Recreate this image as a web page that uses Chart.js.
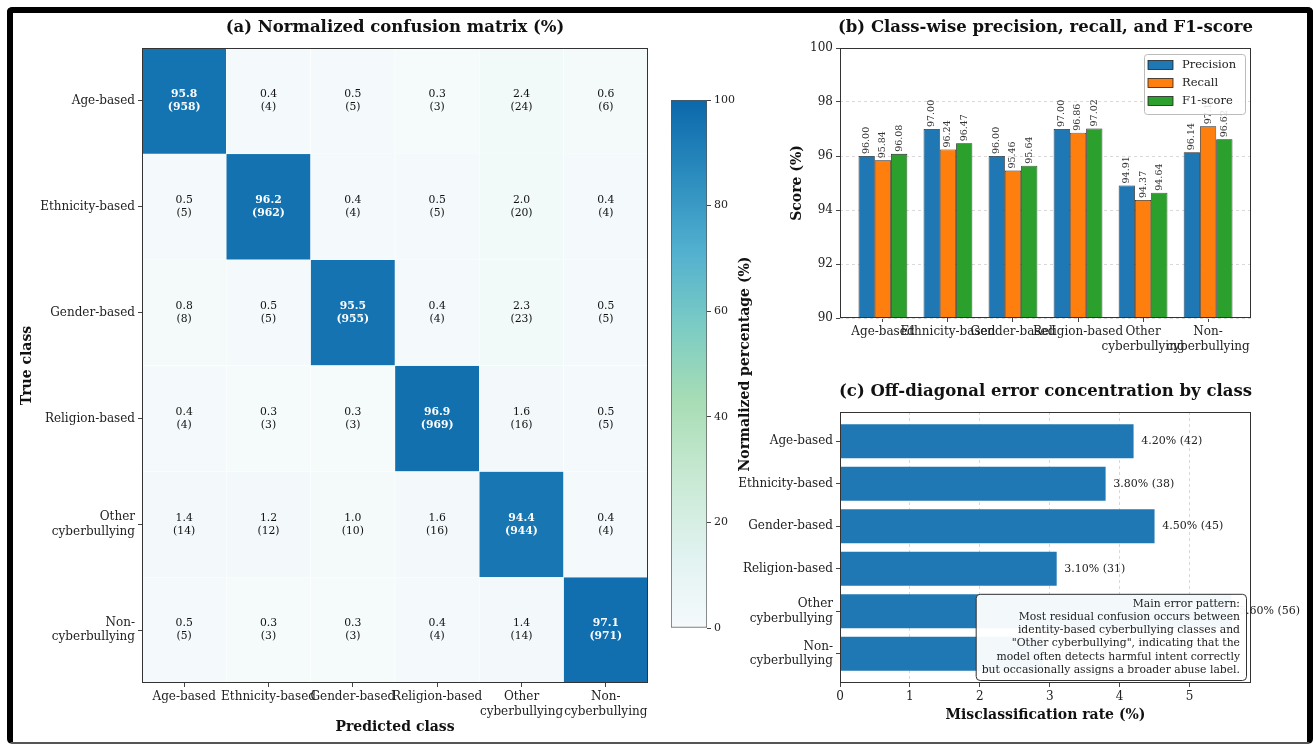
<!DOCTYPE html>
<html>
<head>
<meta charset="utf-8">
<script src="https://cdn.jsdelivr.net/npm/chart.js@4.4.1/dist/chart.umd.min.js"></script>
<style>
  html, body { margin: 0; padding: 0; background: #fff; }
  body { width: 1313px; height: 746px; position: relative; overflow: hidden; }
  canvas { position: absolute; }
  #frame { position: absolute; left: 7px; top: 7px; width: 1306px; height: 737px; box-sizing: border-box;
           border: 6px solid #000; border-bottom: 2px solid #555; border-radius: 5px; }
</style>
</head>
<body>
<div id="frame"></div>
<canvas id="cm" width="660" height="746" style="left:0;top:0"></canvas>
<canvas id="cbar" width="140" height="746" style="left:640px;top:0"></canvas>
<canvas id="prf" width="593" height="370" style="left:720px;top:0"></canvas>
<canvas id="err" width="593" height="376" style="left:720px;top:370px"></canvas>
<script>
// class names (true / predicted)
const classNames = ['Age-based', 'Ethnicity-based', 'Gender-based', 'Religion-based', 'Other\ncyberbullying', 'Non-\ncyberbullying'];

// confusion matrix, row-normalised percentages (true class rows)
const pctAge      = [95.8, 0.4, 0.5, 0.3, 2.4, 0.6];
const pctEthnic   = [0.5, 96.2, 0.4, 0.5, 2.0, 0.4];
const pctGender   = [0.8, 0.5, 95.5, 0.4, 2.3, 0.5];
const pctReligion = [0.4, 0.3, 0.3, 96.9, 1.6, 0.5];
const pctOther    = [1.4, 1.2, 1.0, 1.6, 94.4, 0.4];
const pctNon      = [0.5, 0.3, 0.3, 0.4, 1.4, 97.1];

// raw counts
const cntAge      = [958, 4, 5, 3, 24, 6];
const cntEthnic   = [5, 962, 4, 5, 20, 4];
const cntGender   = [8, 5, 955, 4, 23, 5];
const cntReligion = [4, 3, 3, 969, 16, 5];
const cntOther    = [14, 12, 10, 16, 944, 4];
const cntNon      = [5, 3, 3, 4, 14, 971];

// per-class metrics
const precision = [96.00, 97.00, 96.00, 97.00, 94.91, 96.14];
const recall    = [95.84, 96.24, 95.46, 96.86, 94.37, 97.10];
const f1score   = [96.08, 96.47, 95.64, 97.02, 94.64, 96.62];

// off-diagonal errors
const errRate  = [4.20, 3.80, 4.50, 3.10, 5.60, 2.90];
const errCount = [42, 38, 45, 31, 56, 29];

// tick labels
const scoreTicks = [90, 92, 94, 96, 98, 100];
const cbarTicks  = [0, 20, 40, 60, 80, 100];
const errTicks   = [0, 1, 2, 3, 4, 5];

const noteLines = [
  'Main error pattern:',
  'Most residual confusion occurs between',
  'identity-based cyberbullying classes and',
  '"Other cyberbullying", indicating that the',
  'model often detects harmful intent correctly',
  'but occasionally assigns a broader abuse label.'
];

const cmRows = [pctAge, pctEthnic, pctGender, pctReligion, pctOther, pctNon];
const cmCounts = [cntAge, cntEthnic, cntGender, cntReligion, cntOther, cntNon];

const SERIF = '"DejaVu Serif", serif';
Chart.defaults.font.family = SERIF;
Chart.defaults.color = '#222';
Chart.defaults.animation = false;

// colour map (light -> green -> blue)
const cmapStops = ['#f5fafb', '#e0f2ef', '#c8e9d3', '#a8ddb5', '#7bccc4', '#52b0cf', '#2b8cbe', '#0b68ab'];
function hexToRgb(h) {
  return [1, 3, 5].map(k => parseInt(h.slice(k, k + 2), 16));
}
function cmap(v) {
  const t = Math.max(0, Math.min(1, v / 100)) * (cmapStops.length - 1);
  const i = Math.min(Math.floor(t), cmapStops.length - 2);
  const f = t - i;
  const a = hexToRgb(cmapStops[i]), b = hexToRgb(cmapStops[i + 1]);
  const c = a.map((x, k) => Math.round(x + (b[k] - x) * f));
  return 'rgb(' + c.join(',') + ')';
}

// box around each plot area
const framePlugin = {
  id: 'frame',
  defaults: { color: '#333' },
  afterDatasetsDraw(chart, args, opts) {
    const { ctx, chartArea: a } = chart;
    ctx.save();
    ctx.strokeStyle = opts.color;
    ctx.lineWidth = 1;
    ctx.strokeRect(a.left + 0.5, a.top + 0.5, a.width - 1, a.height - 1);
    ctx.restore();
  }
};

// panel title centred over the plot area
const panelTitle = {
  id: 'panelTitle',
  defaults: { text: '' },
  afterDraw(chart, args, opts) {
    if (!opts.text) return;
    const { ctx, chartArea: a } = chart;
    ctx.save();
    ctx.font = 'bold 16.5px ' + SERIF;
    ctx.fillStyle = '#111';
    ctx.textAlign = 'center';
    ctx.textBaseline = 'middle';
    ctx.fillText(opts.text, (a.left + a.right) / 2, a.top - 20);
    ctx.restore();
  }
};
Chart.register(framePlugin, panelTitle);

const tickGrid = { drawOnChartArea: false, drawTicks: true, tickLength: 4, tickColor: '#444', offset: false };
const axisTitleFont = { size: 14, weight: 'bold' };

// ---- (a) confusion matrix ----
new Chart(document.getElementById('cm'), {
  type: 'bar',
  data: {
    labels: classNames,
    datasets: cmRows.map((row, r) => ({
      label: classNames[r],
      data: row.map(() => [r - 0.5, r + 0.5]),
      backgroundColor: row.map(v => cmap(v)),
      borderColor: '#ffffff',
      borderWidth: 0.5,
      borderSkipped: false,
      grouped: false,
      categoryPercentage: 1,
      barPercentage: 1
    }))
  },
  options: {
    responsive: false,
    devicePixelRatio: 1,
    layout: { padding: { left: 0, right: 12, top: 48, bottom: 0 } },
    plugins: {
      legend: { display: false },
      tooltip: { enabled: false },
      panelTitle: { text: '(a) Normalized confusion matrix (%)' }
    },
    scales: {
      x: {
        offset: true,
        grid: tickGrid,
        border: { display: false },
        ticks: {
          autoSkip: false, maxRotation: 0, minRotation: 0, padding: 3,
          font: { size: 12 }, color: '#222',
          callback: (v, i) => classNames[i].split('\n')
        },
        title: { display: true, text: 'Predicted class', font: axisTitleFont, color: '#111', padding: { top: 2, bottom: 10 } },
        afterFit: s => { s.height = 63; }
      },
      y: {
        type: 'linear', reverse: true, min: -0.5, max: 5.5,
        afterBuildTicks: a => { a.ticks = classNames.map((_, i) => ({ value: i })); },
        grid: tickGrid,
        border: { display: false },
        ticks: {
          autoSkip: false, padding: 3, font: { size: 12 }, color: '#222',
          callback: v => classNames[v] ? classNames[v].split('\n') : ''
        },
        title: { display: true, text: 'True class', font: axisTitleFont, color: '#111', padding: { top: 19, bottom: 0 } },
        afterFit: s => { s.width = 142; }
      }
    }
  },
  plugins: [{
    id: 'cellText',
    afterDatasetsDraw(chart) {
      const { ctx, scales: { x, y } } = chart;
      ctx.save();
      ctx.textAlign = 'center';
      ctx.textBaseline = 'middle';
      cmRows.forEach((row, r) => row.forEach((v, c) => {
        const strong = v > 50;
        ctx.font = (strong ? 'bold ' : '') + '10.8px ' + SERIF;
        ctx.fillStyle = strong ? '#ffffff' : '#111';
        const px = x.getPixelForValue(c), py = y.getPixelForValue(r);
        ctx.fillText(v.toFixed(1), px, py - 6.5);
        ctx.fillText('(' + cmCounts[r][c] + ')', px, py + 6.5);
      }));
      ctx.restore();
    }
  }]
});

// ---- colour bar ----
new Chart(document.getElementById('cbar'), {
  type: 'bar',
  data: {
    labels: [''],
    datasets: [{
      data: [[0, 100]],
      backgroundColor: ctx => {
        const a = ctx.chart.chartArea;
        if (!a) return cmapStops[0];
        const g = ctx.chart.ctx.createLinearGradient(0, a.bottom, 0, a.top);
        cmapStops.forEach((c, i) => g.addColorStop(i / (cmapStops.length - 1), c));
        return g;
      },
      borderColor: '#555',
      borderWidth: 1,
      borderSkipped: false,
      categoryPercentage: 1,
      barPercentage: 1
    }]
  },
  options: {
    responsive: false,
    devicePixelRatio: 1,
    layout: { padding: { left: 31, right: 0, top: 100, bottom: 118 } },
    plugins: { legend: { display: false }, tooltip: { enabled: false }, frame: false },
    scales: {
      x: { display: false },
      y: {
        position: 'right', min: 0, max: 100,
        afterBuildTicks: a => { a.ticks = cbarTicks.map(v => ({ value: v })); },
        grid: tickGrid,
        border: { display: false },
        ticks: { padding: 3, font: { size: 11 }, color: '#222' },
        afterFit: s => { s.width = 73; }
      }
    }
  },
  plugins: [{
    id: 'cbarLabel',
    afterDraw(chart) {
      const { ctx, chartArea: a } = chart;
      ctx.save();
      ctx.translate(105, (a.top + a.bottom) / 2);
      ctx.rotate(-Math.PI / 2);
      ctx.font = 'bold 14px ' + SERIF;
      ctx.fillStyle = '#111';
      ctx.textAlign = 'center';
      ctx.textBaseline = 'middle';
      ctx.fillText('Normalized percentage (%)', 0, 0);
      ctx.restore();
    }
  }]
});

// ---- (b) precision / recall / F1 ----
new Chart(document.getElementById('prf'), {
  type: 'bar',
  data: {
    datasets: [
      { label: 'Precision', data: precision.map((v, i) => ({ x: i, y: v })), backgroundColor: '#1f77b4' },
      { label: 'Recall', data: recall.map((v, i) => ({ x: i, y: v })), backgroundColor: '#ff7f0e' },
      { label: 'F1-score', data: f1score.map((v, i) => ({ x: i, y: v })), backgroundColor: '#2ca02c' }
    ]
  },
  options: {
    responsive: false,
    devicePixelRatio: 1,
    layout: { padding: { left: 0, right: 62, top: 48, bottom: 0 } },
    datasets: { bar: { categoryPercentage: 0.75, barPercentage: 1, borderColor: '#222', borderWidth: 0.8 } },
    plugins: {
      legend: { display: false },
      tooltip: { enabled: false },
      panelTitle: { text: '(b) Class-wise precision, recall, and F1-score' }
    },
    scales: {
      x: {
        type: 'linear', min: -0.66, max: 5.66, offset: false,
        afterBuildTicks: a => { a.ticks = classNames.map((_, i) => ({ value: i })); },
        grid: tickGrid,
        border: { display: false },
        ticks: {
          autoSkip: false, maxRotation: 0, minRotation: 0, padding: 3,
          font: { size: 12 }, color: '#222',
          callback: v => classNames[v] ? classNames[v].split('\n') : ''
        },
        afterFit: s => { s.height = 52; }
      },
      y: {
        min: 90, max: 100,
        afterBuildTicks: a => { a.ticks = scoreTicks.map(v => ({ value: v })); },
        grid: { color: '#d9d9d9', drawTicks: true, tickLength: 4, tickColor: '#444' },
        border: { display: false, dash: [3, 3] },
        ticks: { padding: 3, font: { size: 12 }, color: '#222' },
        title: { display: true, text: 'Score (%)', font: axisTitleFont, color: '#111', padding: { top: 69, bottom: 0 } },
        afterFit: s => { s.width = 120; }
      }
    }
  },
  plugins: [{
    id: 'barValues',
    afterDatasetsDraw(chart) {
      const { ctx } = chart;
      ctx.save();
      ctx.font = '9.5px ' + SERIF;
      ctx.fillStyle = '#333';
      ctx.textAlign = 'left';
      ctx.textBaseline = 'middle';
      chart.data.datasets.forEach((ds, di) => {
        chart.getDatasetMeta(di).data.forEach((el, i) => {
          ctx.save();
          ctx.translate(el.x, el.y - 2);
          ctx.rotate(-Math.PI / 2);
          ctx.fillText(ds.data[i].y.toFixed(2), 0, 0);
          ctx.restore();
        });
      });
      ctx.restore();
    }
  }, {
    id: 'boxLegend',
    afterDraw(chart) {
      const { ctx, chartArea: a } = chart;
      const w = 101, h = 60;
      const bx = a.right - 6 - w, by = a.top + 6;
      ctx.save();
      ctx.beginPath();
      ctx.roundRect(bx + 0.5, by + 0.5, w, h, 3);
      ctx.fillStyle = 'rgba(255,255,255,0.85)';
      ctx.fill();
      ctx.strokeStyle = '#bbb';
      ctx.lineWidth = 1;
      ctx.stroke();
      ctx.font = '11.5px ' + SERIF;
      ctx.textBaseline = 'middle';
      chart.data.datasets.forEach((ds, i) => {
        const cy = by + 11 + i * 18;
        ctx.fillStyle = ds.backgroundColor;
        ctx.fillRect(bx + 4, cy - 4.5, 25, 9);
        ctx.strokeStyle = '#222';
        ctx.lineWidth = 0.8;
        ctx.strokeRect(bx + 4, cy - 4.5, 25, 9);
        ctx.fillStyle = '#222';
        ctx.fillText(ds.label, bx + 38, cy);
      });
      ctx.restore();
    }
  }]
});

// ---- (c) off-diagonal error rate ----
new Chart(document.getElementById('err'), {
  type: 'bar',
  data: {
    datasets: [{
      label: 'Misclassification rate',
      data: errRate.map((v, i) => ({ x: v, y: i })),
      backgroundColor: '#1f77b4',
      categoryPercentage: 0.8,
      barPercentage: 1
    }]
  },
  options: {
    indexAxis: 'y',
    responsive: false,
    devicePixelRatio: 1,
    layout: { padding: { left: 0, right: 62, top: 42, bottom: 0 } },
    plugins: {
      legend: { display: false },
      tooltip: { enabled: false },
      panelTitle: { text: '(c) Off-diagonal error concentration by class' }
    },
    scales: {
      x: {
        type: 'linear', min: 0, max: 5.88,
        afterBuildTicks: a => { a.ticks = errTicks.map(v => ({ value: v })); },
        grid: { color: '#d9d9d9', drawTicks: true, tickLength: 4, tickColor: '#444' },
        border: { display: false, dash: [3, 3] },
        ticks: { padding: 3, font: { size: 12 }, color: '#222' },
        title: { display: true, text: 'Misclassification rate (%)', font: axisTitleFont, color: '#111', padding: { top: 2, bottom: 22 } },
        afterFit: s => { s.height = 63; }
      },
      y: {
        type: 'linear', reverse: true, min: -0.69, max: 5.69, offset: false,
        afterBuildTicks: a => { a.ticks = classNames.map((_, i) => ({ value: i })); },
        grid: tickGrid,
        border: { display: false },
        ticks: {
          autoSkip: false, padding: 3, font: { size: 12 }, color: '#222',
          callback: v => classNames[v] ? classNames[v].split('\n') : ''
        },
        afterFit: s => { s.width = 120; }
      }
    }
  },
  plugins: [{
    id: 'errLabels',
    afterDraw(chart) {
      const { ctx, chartArea: a, scales: { x, y } } = chart;
      ctx.save();
      ctx.font = '11px ' + SERIF;
      ctx.fillStyle = '#222';
      ctx.textAlign = 'left';
      ctx.textBaseline = 'middle';
      errRate.forEach((v, i) => {
        ctx.fillText(v.toFixed(2) + '% (' + errCount[i] + ')', x.getPixelForValue(v + 0.11), y.getPixelForValue(i));
      });
      // note box
      ctx.font = '10.8px ' + SERIF;
      const lh = 13.2;
      const tw = Math.max(...noteLines.map(t => ctx.measureText(t).width));
      const bw = tw + 12, bh = noteLines.length * lh + 7;
      const bx = a.right - 5 - bw, by = a.bottom - 3 - bh;
      ctx.beginPath();
      ctx.roundRect(bx + 0.5, by + 0.5, bw, bh, 4);
      ctx.fillStyle = 'rgba(255,255,255,0.95)';
      ctx.fill();
      ctx.strokeStyle = '#333';
      ctx.lineWidth = 1;
      ctx.stroke();
      ctx.fillStyle = '#222';
      ctx.textAlign = 'right';
      noteLines.forEach((t, i) => ctx.fillText(t, bx + bw - 6, by + 3.5 + lh / 2 + i * lh));
      ctx.restore();
    }
  }]
});
</script>
</body>
</html>
